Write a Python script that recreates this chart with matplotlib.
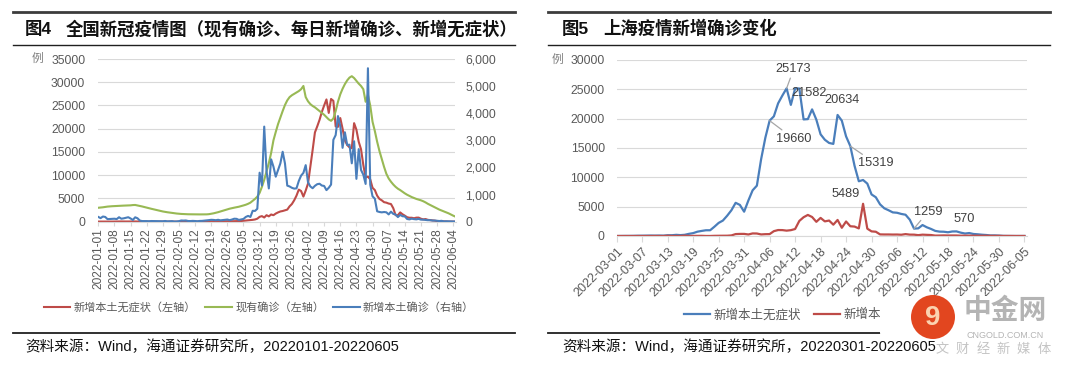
import pandas as pd
import matplotlib
matplotlib.use('Agg')
import matplotlib.pyplot as plt
from matplotlib.lines import Line2D
from matplotlib.patches import Circle, FancyBboxPatch
from matplotlib.ticker import FuncFormatter, MultipleLocator

plt.rcParams['font.family'] = ['Liberation Sans', 'Noto Sans CJK SC']

W, H = 1080, 367

# ---- 图4 national data, 2022-01-01 .. 2022-06-05 (daily) ----
nation_start, nation_end = '2022-01-01', '2022-06-05'
nation_asym = [  # 新增本土无症状 (left axis)
    28, 25, 31, 22, 24, 30, 25, 33, 41, 46, 52, 40, 38, 45, 43, 55, 48, 35, 30, 22,
    24, 20, 18, 26, 23, 21, 19, 17, 20, 22, 18,
    15, 17, 12, 14, 18, 25, 22, 30, 26, 28, 32, 30, 35, 38, 42, 45, 60, 70, 65, 80,
    90, 85, 75, 80, 95, 100, 90, 110,
    110, 120, 130, 150, 200, 230, 280, 330, 400, 480, 650, 1050, 1200, 900, 1400, 1150,
    1550, 1400, 1750, 2000, 2200, 2300, 2450, 2600, 3300, 3800, 4600, 5600, 6900, 6600, 5400,
    6700, 8200, 11800, 15400, 19200, 20500, 21900, 23600, 25000, 26300, 23400, 26400, 26000,
    20500, 20400, 22300, 20000, 17500, 16500, 16000, 15800, 21200, 19800, 17200, 15600,
    12200, 9500, 9700, 9100, 7300,
    6800, 5600, 4900, 4600, 4200, 4100, 3900, 3800, 2900, 1400, 1400, 2000, 1600, 1300,
    960, 850, 850, 740, 870, 880, 640, 500, 570, 400, 340, 270, 220, 130, 130, 100, 60,
    35, 30, 25, 20, 20,
]
nation_current = [  # 现有确诊 (left axis)
    3000, 3050, 3100, 3180, 3250, 3300, 3330, 3360, 3390, 3420, 3440, 3460, 3480, 3500,
    3520, 3580, 3600, 3500, 3400, 3280, 3150, 3020, 2900, 2780, 2660, 2540, 2420, 2300,
    2200, 2110, 2030,
    1960, 1890, 1820, 1760, 1710, 1670, 1640, 1620, 1600, 1590, 1580, 1575, 1570, 1570,
    1570, 1575, 1580, 1620, 1700, 1800, 1920, 2050, 2200, 2350, 2500, 2650, 2800, 2920,
    3020, 3120, 3220, 3350, 3500, 3650, 3850, 4100, 4500, 4900, 5400, 6200, 7500, 9000,
    10800, 12600, 14800, 17500, 19300, 21000, 22400, 23800, 25100, 26100, 26800, 27200,
    27500, 27800, 28100, 28500, 29200,
    26800, 25900, 25300, 24900, 24600, 24200, 23800, 23400, 23000, 22500, 22000, 21700,
    22200, 23800, 25800, 27400, 28600, 29600, 30400, 31000, 31300, 30900, 30300, 29700,
    29200, 28500, 25800, 27300, 25000, 21500,
    19500, 17200, 15200, 13500, 11800, 10300, 9300, 8600, 8000, 7500, 7100, 6800, 6450,
    6100, 5800, 5550, 5300, 5100, 4900, 4750, 4600, 4400, 4150, 3850, 3600, 3350, 3100,
    2850, 2600, 2400, 2200,
    2000, 1800, 1550, 1300, 1080,
]
nation_confirmed = [  # 新增本土确诊 (right axis)
    175, 131, 191, 175, 95, 101, 104, 110, 97, 165, 110, 124, 143, 165, 119, 65, 163, 127,
    43, 23, 23, 22, 17, 25, 24, 20, 23, 20, 16, 26, 12,
    18, 21, 7, 8, 20, 45, 40, 45, 25, 24, 30, 25, 15, 28, 30, 38, 50, 58, 70, 65, 55, 70,
    50, 60, 72, 80, 56, 80,
    110, 105, 65, 83, 102, 175, 214, 175, 402, 397, 476, 1807, 1337, 3507, 1860, 1226,
    2300, 2030, 1660, 1900, 2150, 2580, 2150, 1330, 1300, 1250, 1220, 1230, 1500, 1700, 1800,
    2086, 1455, 1300, 1235, 1323, 1383, 1400, 1334, 1318, 1164, 1251, 1369, 3020, 3194,
    3896, 3529, 2724, 3297, 2830, 2841, 2153, 2966, 1580, 2677, 1908, 1734, 1393, 5659,
    1365, 936,
    848, 384, 358, 345, 357, 346, 269, 370, 288, 266, 170, 251, 202, 195, 100, 85, 111, 95,
    86, 104, 75, 75, 67, 55, 57, 42, 43, 34, 25, 32, 10,
    16, 13, 6, 6, 6,
]

# ---- 图5 Shanghai data, 2022-03-01 .. 2022-06-05 (daily) ----
sh_start, sh_end = '2022-03-01', '2022-06-05'
sh_asym = [  # 新增本土无症状
    1, 5, 14, 16, 28, 45, 51, 62, 76, 64, 78, 64, 128, 130, 197, 150, 203, 366, 492, 734,
    865, 977, 979, 1580, 2231, 2631, 3450, 4381, 5656, 5298, 4144,
    6051, 7788, 8581, 13086, 16766, 19660, 20398, 22609, 23937, 25173, 22348, 25141, 25146,
    19872, 19923, 21582, 19831, 17332, 16407, 15861, 15698, 20634, 19657, 16983, 15319,
    11956, 9330, 9545, 8932, 7084,
    6606, 5395, 4722, 4390, 4024, 3961, 3760, 3625, 2780, 1259, 1305, 1869, 1487, 1203,
    869, 746, 727, 637, 770, 784, 570, 422, 503, 343, 290, 219, 170, 93, 100, 67, 26,
    7, 5, 3, 2, 4,
]
sh_confirmed = [  # 新增本土确诊
    1, 3, 2, 3, 0, 3, 3, 3, 4, 11, 5, 1, 41, 9, 5, 8, 57, 8, 17, 24, 31, 4, 4, 29, 38, 45,
    50, 96, 326, 355, 358,
    260, 438, 425, 268, 311, 322, 824, 1015, 1006, 914, 994, 1189, 2573, 3200, 3590, 3238,
    2417, 3084, 2494, 2634, 1931, 2736, 1401, 2472, 1661, 1606, 1292, 5489, 1249, 788,
    727, 274, 260, 261, 245, 253, 215, 322, 234, 228, 144, 227, 194, 166, 69, 77, 96, 82,
    88, 84, 52, 58, 55, 44, 45, 39, 39, 31, 22, 29, 5,
    15, 10, 2, 4, 4,
]
sh_label_asym = ['2022-04-06', '2022-04-10', '2022-04-16', '2022-04-22', '2022-04-25',
                 '2022-05-10', '2022-05-21']
sh_label_conf = ['2022-04-28']

RED, GREEN, BLUE = '#be4b48', '#98b954', '#4a7ebb'
GRID, TICK, DARK = '#d9d9d9', '#595959', '#404040'


def fy(py):
    return 1 - py / H


def fig_line(fig, x0, x1, y, lw, color='#404040'):
    fig.add_artist(Line2D([x0 / W, x1 / W], [fy(y), fy(y)], transform=fig.transFigure,
                          lw=lw, color=color))


def style_axis(ax):
    for side in ['top', 'left', 'right']:
        ax.spines[side].set_visible(False)
    ax.spines['bottom'].set_color(GRID)
    ax.grid(axis='y', color=GRID, lw=0.8)
    ax.set_axisbelow(True)
    ax.tick_params(axis='y', length=0, labelcolor=TICK, labelsize=8.7, pad=9.4)
    ax.tick_params(axis='x', length=3, color=GRID, labelcolor=TICK)


fig = plt.figure(figsize=(W / 100, H / 100), dpi=100)

# ===== left chart =====
nation_dates = pd.date_range(nation_start, nation_end)
ax1 = fig.add_axes([98.3 / W, fy(221.7), (455.5 - 98.3) / W, (221.7 - 59) / H])
style_axis(ax1)
l_asym, = ax1.plot(nation_dates, nation_asym, color=RED, lw=1.5)
l_cur, = ax1.plot(nation_dates, nation_current, color=GREEN, lw=1.5)
ax1.set_ylim(0, 35000)
ax1.yaxis.set_major_locator(MultipleLocator(5000))
ax1.set_xlim(nation_dates[0], nation_dates[-1])
ticks = pd.date_range(nation_start, nation_end, freq='7D')
ax1.set_xticks(ticks)
ax1.set_xticklabels([t.strftime('%Y-%m-%d') for t in ticks], rotation=90, fontsize=8.6)
ax1.tick_params(axis='x', pad=1.5)

ax1r = ax1.twinx()
for side in ['top', 'left', 'right', 'bottom']:
    ax1r.spines[side].set_visible(False)
l_conf, = ax1r.plot(nation_dates, nation_confirmed, color=BLUE, lw=1.5)
ax1r.set_ylim(0, 6000)
ax1r.yaxis.set_major_locator(MultipleLocator(1000))
ax1r.yaxis.set_major_formatter(FuncFormatter(lambda v, p: f'{int(v):,}'))
ax1r.tick_params(axis='y', length=0, labelcolor=TICK, labelsize=8.7, pad=7)

fig.text(37 / W, fy(59), '例', color='#808080', fontsize=8.5, ha='center', va='center')

fig.legend([l_asym, l_cur, l_conf],
           ['新增本土无症状（左轴）', '现有确诊（左轴）', '新增本土确诊（右轴）'],
           loc='center', bbox_to_anchor=(259 / W, fy(307)), ncol=3, frameon=False,
           fontsize=8, handlelength=2.4, handletextpad=0.3, columnspacing=0.8,
           labelcolor=TICK)

fig_line(fig, 13, 515, 12, 2.0, '#3c3c3c')
fig_line(fig, 13, 515, 45, 1.0, '#202020')
fig_line(fig, 13, 515, 333, 1.3, '#202020')
fig.text(25 / W, fy(28.5), '图4', fontsize=12.5, fontweight='bold', va='center',
         color='#111111')
fig.text(66 / W, fy(28.5), '全国新冠疫情图（现有确诊、每日新增确诊、新增无症状）',
         fontsize=12.5, fontweight='bold', va='center', color='#111111')
fig.text(25 / W, fy(347), '资料来源：Wind，海通证券研究所，20220101-20220605',
         fontsize=10.5, va='center', color='#111111', zorder=13)

# ===== right chart =====
sh_dates = pd.date_range(sh_start, sh_end)
ax2 = fig.add_axes([616.7 / W, fy(236), (1027.3 - 616.7) / W, (236 - 60) / H])
style_axis(ax2)
ax2.tick_params(axis='y', pad=8.6)
s_asym, = ax2.plot(sh_dates, sh_asym, color=BLUE, lw=1.6)
s_conf, = ax2.plot(sh_dates, sh_confirmed, color=RED, lw=1.6)
ax2.set_ylim(0, 30000)
ax2.yaxis.set_major_locator(MultipleLocator(5000))
ax2.set_xlim(sh_dates[0], sh_dates[-1] + pd.Timedelta(hours=16))
ticks2 = pd.date_range(sh_start, sh_end, freq='6D')
ax2.set_xticks(ticks2)
ax2.set_xticklabels([t.strftime('%Y-%m-%d') for t in ticks2], rotation=45, ha='right',
                    rotation_mode='anchor', fontsize=9)
ax2.tick_params(axis='x', length=4, pad=3)

label_offsets = {
    '2022-04-06': (24, -18, True),
    '2022-04-10': (7, 19, True),
    '2022-04-16': (-3, 16, False),
    '2022-04-22': (4, 15, False),
    '2022-04-25': (25, -17, True),
    '2022-05-10': (14, 17, True),
    '2022-05-21': (3, 14, False),
    '2022-04-28': (-17, 10, False),
}
sh_asym_s = pd.Series(sh_asym, index=sh_dates)
sh_conf_s = pd.Series(sh_confirmed, index=sh_dates)
for series, dates in [(sh_asym_s, sh_label_asym), (sh_conf_s, sh_label_conf)]:
    for d in dates:
        t = pd.Timestamp(d)
        dx, dy, leader = label_offsets[d]
        arrow = dict(arrowstyle='-', color='#a6a6a6', lw=0.9, shrinkA=0, shrinkB=0) if leader else None
        ax2.annotate(str(series[t]), xy=(t, series[t]), xytext=(dx, dy),
                     textcoords='offset pixels', ha='center', va='center', fontsize=9.2,
                     color=DARK, arrowprops=arrow)

fig.text(557 / W, fy(60), '例', color='#808080', fontsize=8.5, ha='center', va='center')
fig.legend([s_asym, s_conf], ['新增本土无症状', '新增本土确诊'], loc='center',
           bbox_to_anchor=(801 / W, fy(315)), ncol=2, frameon=False, fontsize=9,
           handlelength=2.1, handletextpad=0.3, columnspacing=1.0, labelcolor=TICK)

fig_line(fig, 548, 1050, 12, 2.0, '#3c3c3c')
fig_line(fig, 548, 1050, 45, 1.0, '#202020')
fig_line(fig, 548, 1050, 333, 1.3, '#202020')
fig.text(562 / W, fy(28.5), '图5', fontsize=12.5, fontweight='bold', va='center',
         color='#111111')
fig.text(603 / W, fy(28.5), '上海疫情新增确诊变化', fontsize=12.5, fontweight='bold',
         va='center', color='#111111')
fig.text(562 / W, fy(347), '资料来源：Wind，海通证券研究所，20220301-20220605',
         fontsize=10.5, va='center', color='#111111', zorder=13)

# watermark in the bottom-right corner (drawn in inches so the logo stays round)
fig.add_artist(FancyBboxPatch((880 / W, fy(340)), 195 / W, 44 / H,
                              boxstyle='round,pad=0,rounding_size=0.02',
                              transform=fig.transFigure, fc='white', ec='none', zorder=10))
fig.add_artist(Circle((9.33, (H - 317) / 100), 0.22, transform=fig.dpi_scale_trans,
                      fc='#e2461f', ec='none', zorder=11))
fig.text(933 / W, fy(318), '9', fontsize=20, fontweight='bold', color='#fbd2b0',
         ha='center', va='center', zorder=12)
fig.text(1005 / W, fy(312), '中金网', fontsize=20, fontweight='bold', color='#b4b4b4',
         ha='center', va='center', zorder=12)
fig.text(1005 / W, fy(335), 'CNGOLD.COM.CN', fontsize=6.5, color='#b4b4b4',
         ha='center', va='center', zorder=12)
for i, ch in enumerate('文财经新媒体'):
    fig.text((942 + i * 20.4) / W, fy(350), ch, fontsize=9.5, color='#c4c4c4',
             ha='center', va='center', zorder=12)

fig.savefig('out.png', dpi=100)
